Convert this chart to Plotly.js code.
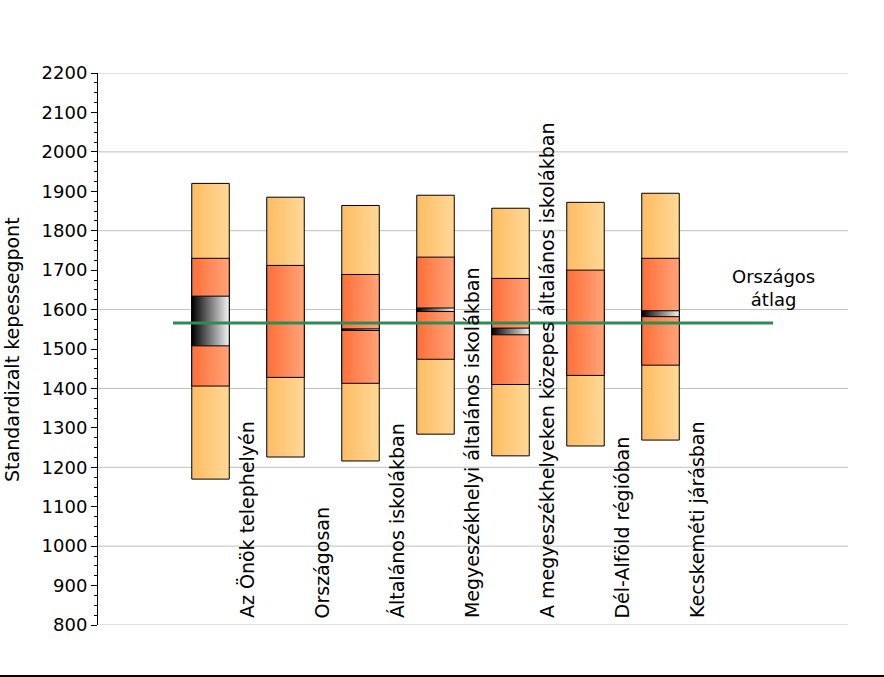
<!DOCTYPE html>
<html>
<head>
<meta charset="utf-8">
<script src="https://cdn.plot.ly/plotly-3.0.1.min.js"></script>
<style>html,body{margin:0;padding:0;background:#fff;}#chart{width:884px;height:677px;}</style>
</head>
<body>
<div id="chart"></div>
<script>
// ---- data ----
const categories = [
  "Az Önök telephelyén",
  "Országosan",
  "Általános iskolákban",
  "Megyeszékhelyi általános iskolákban",
  "A megyeszékhelyeken közepes általános iskolákban",
  "Dél-Alföld régióban",
  "Kecskeméti járásban"
];
const p5  = [1170, 1226, 1216, 1284, 1229, 1254, 1269];
const p25 = [1406, 1428, 1413, 1474, 1410, 1433, 1459];
const p75 = [1730, 1712, 1689, 1733, 1679, 1700, 1730];
const p95 = [1920, 1885, 1864, 1890, 1857, 1872, 1895];
const ciLow  = [1508, null, 1547, 1595, 1536, null, 1582];
const ciHigh = [1634, null, 1551, 1604, 1553, null, 1597];
const nationalAvg = [1566];
const nationalLabel = "Országos<br>átlag";
const yTitle = "Standardizalt kepessegpont";
const gridValues = [800, 1000, 1200, 1400, 1600, 1800, 2000, 2200];

// ---- styles ----
const FONT = "DejaVu Sans";
const HALF = 0.25;
const lightScale = [[0, "#FEBC62"], [1, "#FFD898"]];
const darkScale  = [[0, "#FF6E38"], [1, "#FFA47A"]];
const ciScale    = [[0, "#000000"], [1, "#F4F4F4"]];

function rect(xc, lo, hi, scale) {
  return {
    type: "scatter", mode: "lines",
    x: [xc - HALF, xc + HALF, xc + HALF, xc - HALF, xc - HALF],
    y: [lo, lo, hi, hi, lo],
    fill: "toself",
    fillgradient: {type: "horizontal", colorscale: scale},
    line: {color: "#000000", width: 1},
    hoverinfo: "skip", showlegend: false
  };
}

const traces = [];
categories.forEach((c, i) => {
  const xc = i + 1;
  traces.push(rect(xc, p5[i], p95[i], lightScale));
  traces.push(rect(xc, p25[i], p75[i], darkScale));
  if (ciLow[i] !== null && ciHigh[i] !== null) {
    traces.push(rect(xc, ciLow[i], ciHigh[i], ciScale));
  }
});
traces.push({
  type: "scatter", mode: "lines",
  x: [0.5, 8.5], y: [nationalAvg[0], nationalAvg[0]],
  line: {color: "#2E8B57", width: 3},
  hoverinfo: "skip", showlegend: false
});

const annotations = categories.map((c, i) => ({
  text: c, x: i + 1 + 0.49, y: 812, xref: "x", yref: "y",
  xanchor: "center", yanchor: "bottom", textangle: -90, showarrow: false,
  font: {family: FONT, size: 19, color: "#000"}
}));
annotations.push({
  text: nationalLabel, x: 8.5, y: 1655, xref: "x", yref: "y",
  xanchor: "center", yanchor: "middle", showarrow: false,
  font: {family: FONT, size: 18, color: "#000"}
});
annotations.push({
  text: yTitle, x: -0.1147, y: 0.5, xref: "paper", yref: "paper",
  xanchor: "center", yanchor: "middle", textangle: -90, showarrow: false,
  font: {family: FONT, size: 19, color: "#000"}
});

const shapes = gridValues.map(v => ({
  type: "line", xref: "paper", yref: "y", x0: 0, x1: 1, y0: v, y1: v,
  line: {color: "#BFBFBF", width: 1}, layer: "below"
}));
shapes.push({
  type: "line", xref: "paper", yref: "paper",
  x0: -0.131, x1: 1.05, y0: -0.0924, y1: -0.0924,
  line: {color: "#000", width: 2}
});

const layout = {
  width: 884, height: 677,
  margin: {l: 98, r: 36, t: 73, b: 52},
  paper_bgcolor: "#fff", plot_bgcolor: "#fff",
  font: {family: FONT, size: 18, color: "#000"},
  showlegend: false,
  xaxis: {range: [-0.5, 9.5], showgrid: false, zeroline: false, showline: false,
          showticklabels: false, ticks: "", fixedrange: true},
  yaxis: {range: [800, 2200], tick0: 800, dtick: 100, showgrid: false, zeroline: false,
          showline: true, linecolor: "#000", linewidth: 1,
          ticks: "outside", ticklen: 6, tickcolor: "#000", tickwidth: 1,
          minor: {dtick: 25, ticks: "outside", ticklen: 3, tickcolor: "#000", showgrid: false},
          tickfont: {family: FONT, size: 18, color: "#000"}, fixedrange: true},
  annotations: annotations,
  shapes: shapes
};

Plotly.newPlot("chart", traces, layout, {displayModeBar: false, staticPlot: true});
</script>
</body>
</html>
